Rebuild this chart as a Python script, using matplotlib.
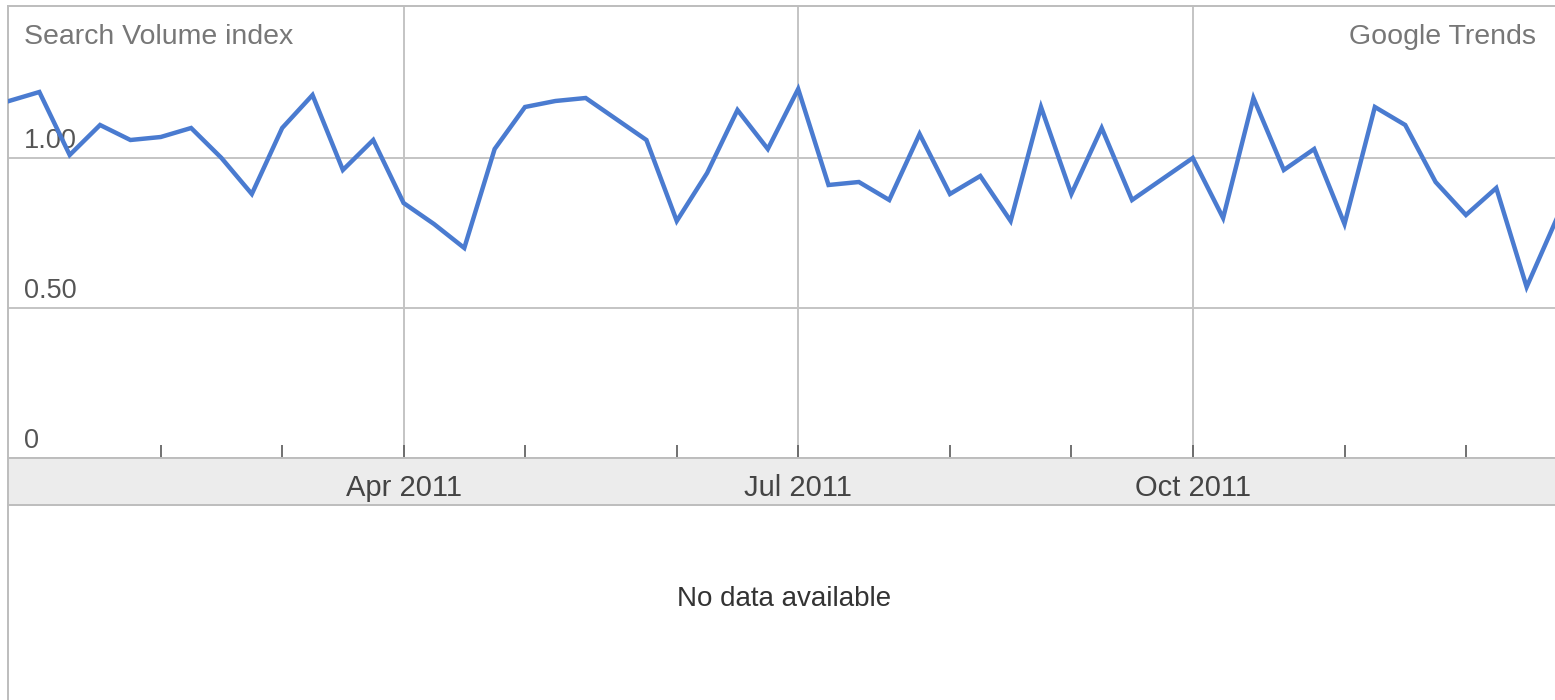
import matplotlib
matplotlib.use("Agg")
import matplotlib.pyplot as plt
import matplotlib.dates as mdates
import matplotlib.transforms as mtransforms
import pandas as pd

plt.rcParams['font.family'] = ['Liberation Sans', 'DejaVu Sans']

# weekly search volume index, 2011
weeks = pd.date_range('2011-01-02', periods=52, freq='W-SUN')
volume = [1.19, 1.22, 1.01, 1.11, 1.06, 1.07, 1.10, 1.00, 0.88, 1.10,
          1.21, 0.96, 1.06, 0.85, 0.78, 0.70, 1.03, 1.17, 1.19, 1.20,
          1.13, 1.06, 0.79, 0.95, 1.16, 1.03, 1.23, 0.91, 0.92, 0.86,
          1.08, 0.88, 0.94, 0.79, 1.17, 0.88, 1.10, 0.86, 0.93, 1.00,
          0.80, 1.20, 0.96, 1.03, 0.78, 1.17, 1.11, 0.92, 0.81, 0.90,
          0.57, 0.80]
y_ticks = [0, 0.5, 1.0]
y_labels = ['0', '0.50', '1.00']
quarter_months = [4, 7, 10]

W, H = 1555, 700
line_col = '#4a7bd0'
grid_col = '#c4c4c4'
border_col = '#bdbdbd'

fig = plt.figure(figsize=(W / 100, H / 100), dpi=100)

left = 8 / W
top_px, zero_px, band_px = 6, 458, 505
ax = fig.add_axes([left, 1 - zero_px / H, 1 - left, (zero_px - top_px) / H])
band = fig.add_axes([left, 1 - band_px / H, 1 - left, (band_px - zero_px) / H], sharex=ax)

# month ticks = first week of each month
month_ticks = [d for i, d in enumerate(weeks) if d.day <= 7 and i > 0]
grid_weeks = [d for d in month_ticks if d.month in quarter_months]

ax.plot(weeks, volume, color=line_col, lw=3.2, solid_joinstyle='miter', zorder=3)

x0 = mdates.date2num(weeks[0]) - 0.23
x1 = mdates.date2num(weeks[-1]) - 0.46
ax.set_xlim(x0, x1)
ax.set_ylim(0, (zero_px - top_px) / 300)

for v in y_ticks[1:]:
    ax.axhline(v, color=grid_col, lw=1.4, zorder=1)
for d in grid_weeks:
    ax.axvline(d, color=grid_col, lw=1.4, zorder=1)

ax.set_xticks(month_ticks)
ax.set_xticklabels([])
ax.set_yticks([])
ax.tick_params(axis='x', direction='in', length=9.5, width=1.3, color='#666666')
for s in ['top', 'left', 'bottom']:
    ax.spines[s].set_color(border_col)
    ax.spines[s].set_linewidth(1.4)
ax.spines['right'].set_visible(False)

trans = mtransforms.blended_transform_factory(ax.transAxes, ax.transData)
for v, lab in zip(y_ticks, y_labels):
    ax.annotate(lab, (16 / (W - 8), v), xycoords=trans, xytext=(0, 3),
                textcoords='offset points', ha='left', va='bottom',
                fontsize=19.5, color='#555555', zorder=2)

ax.text(16 / (W - 8), 0.931, 'Search Volume index', transform=ax.transAxes,
        ha='left', va='center', fontsize=20.5, color='#777777')
ax.text(1528 / (W - 8), 0.931, 'Google Trends', transform=ax.transAxes,
        ha='right', va='center', fontsize=20.5, color='#777777')

# grey date band
band.set_facecolor('#ececec')
band.set_yticks([])
band.tick_params(axis='x', length=0, labelbottom=False)
for s in ['top', 'bottom', 'left']:
    band.spines[s].set_color(border_col)
    band.spines[s].set_linewidth(1.4)
band.spines['right'].set_visible(False)
band_trans = mtransforms.blended_transform_factory(band.transData, band.transAxes)
for d in grid_weeks:
    band.text(d, 0.36, d.strftime('%b %Y'), transform=band_trans,
              ha='center', va='center', fontsize=21, color='#444444')

# empty panel below
fig.add_artist(plt.Line2D([left, left], [0, 1 - band_px / H], color=border_col, lw=1.4))
fig.text(784 / W, 1 - 599 / H, 'No data available', ha='center', va='center',
         fontsize=20, color='#333333')

fig.savefig('out.png', dpi=100, facecolor='white')
